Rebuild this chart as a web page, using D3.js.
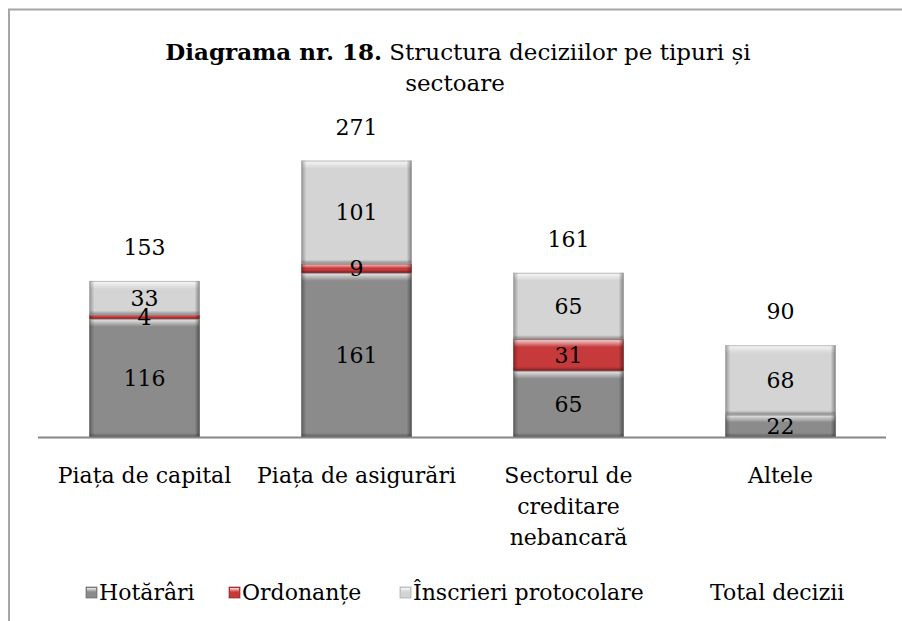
<!DOCTYPE html>
<html>
<head>
<meta charset="utf-8">
<script src="https://cdn.jsdelivr.net/npm/d3@7"></script>
<style>
  body { margin: 0; background: #fff; }
  svg { display: block; font-family: "DejaVu Serif", "Liberation Serif", serif; }
</style>
</head>
<body>
<div id="chart"></div>
<script>
const categories = ["Piața de capital", "Piața de asigurări", "Sectorul de\ncreditare\nnebancară", "Altele"];
const hotarari = [116, 161, 65, 22];
const ordonante = [4, 9, 31, 0];
const inscrieri = [33, 101, 65, 68];
const totalDecizii = [153, 271, 161, 90];
const seriesNames = ["Hotărâri", "Ordonanțe", "Înscrieri protocolare", "Total decizii"];

const width = 902, height = 621;
const fontSize = 22;

const svg = d3.select('#chart').append('svg')
  .attr('width', width)
  .attr('height', height);

const defs = svg.append('defs');

// chart area border (only top/left visible)
svg.append('path')
  .attr('d', `M9,${height} V9.5 H${width}`)
  .attr('fill', 'none')
  .attr('stroke', '#a6a6a6')
  .attr('stroke-width', 2);

// title
const title = svg.append('text')
  .attr('text-anchor', 'middle')
  .attr('font-size', fontSize + 1)
  .attr('fill', '#000');
const t1 = title.append('tspan').attr('x', 458).attr('y', 60);
t1.append('tspan').attr('font-weight', 'bold').text('Diagrama nr. 18.');
t1.append('tspan').text(' Structura deciziilor pe tipuri și');
title.append('tspan').attr('x', 455).attr('y', 91).text('sectoare');

const x = d3.scaleBand()
  .domain(d3.range(categories.length))
  .range([38.5, 886.5])
  .paddingInner(0.48)
  .paddingOuter(0.24);

const y = d3.scaleLinear()
  .domain([0, 300])
  .range([437, 131]);

const colors = [
  { base: '#8b8b8b', dark: '#5a5a5a' },
  { base: '#c73a3b', dark: '#7a1a1a' },
  { base: '#d4d4d4', dark: '#9a9a9a' }
];

// gradients for bevel
function grad(id, horiz, stops) {
  const g = defs.append('linearGradient').attr('id', id)
    .attr('x1', 0).attr('y1', 0).attr('x2', horiz ? 1 : 0).attr('y2', horiz ? 0 : 1);
  stops.forEach(s => g.append('stop').attr('offset', s[0]).attr('stop-color', s[1]).attr('stop-opacity', s[2]));
}
grad('topHi', false, [[0, '#fff', 0.85], [1, '#fff', 0]]);
grad('botSh', false, [[0, '#000', 0], [1, '#000', 0.35]]);
grad('leftSh', true, [[0, '#000', 0.3], [1, '#000', 0]]);
grad('rightSh', true, [[0, '#000', 0], [1, '#000', 0.4]]);

const stackData = categories.map((c, i) => ({ i, v: [hotarari[i], ordonante[i], inscrieri[i]] }));
const stack = d3.stack().keys([0, 1, 2]).value((d, k) => d.v[k]);
const layers = stack(stackData);

const plot = svg.append('g');

layers.forEach((layer, k) => {
  const col = colors[k];
  layer.forEach((d, i) => {
    const v = d[1] - d[0];
    if (v <= 0) return;
    const x0 = x(i), w = x.bandwidth();
    const y0 = y(d[1]), h = y(d[0]) - y(d[1]);
    const g = plot.append('g');
    g.append('rect').attr('x', x0).attr('y', y0).attr('width', w).attr('height', h).attr('fill', col.base);
    const e = Math.min(8, h / 2);
    g.append('rect').attr('x', x0).attr('y', y0).attr('width', w).attr('height', e).attr('fill', 'url(#topHi)');
    const b = Math.min(4, h / 3);
    g.append('rect').attr('x', x0).attr('y', y0 + h - b).attr('width', w).attr('height', b).attr('fill', 'url(#botSh)');
    g.append('rect').attr('x', x0).attr('y', y0).attr('width', 5).attr('height', h).attr('fill', 'url(#leftSh)');
    g.append('rect').attr('x', x0 + w - 5).attr('y', y0).attr('width', 5).attr('height', h).attr('fill', 'url(#rightSh)');
    g.append('rect').attr('x', x0 + 0.5).attr('y', y0 + 0.5).attr('width', w - 1).attr('height', Math.max(0, h - 1))
      .attr('fill', 'none').attr('stroke', col.dark).attr('stroke-opacity', 0.6);
  });
});

// segment labels
layers.forEach((layer, k) => {
  layer.forEach((d, i) => {
    const v = d[1] - d[0];
    if (v <= 0) return;
    plot.append('text')
      .attr('x', x(i) + x.bandwidth() / 2)
      .attr('y', (y(d[0]) + y(d[1])) / 2)
      .attr('dy', '0.36em')
      .attr('text-anchor', 'middle')
      .attr('font-size', fontSize)
      .text(v);
  });
});

// totals
plot.selectAll('.total')
  .data(totalDecizii)
  .join('text')
  .attr('class', 'total')
  .attr('x', (d, i) => x(i) + x.bandwidth() / 2)
  .attr('y', d => y(d) - 34)
  .attr('dy', '0.36em')
  .attr('text-anchor', 'middle')
  .attr('font-size', fontSize)
  .text(d => d);

// x axis
svg.append('line')
  .attr('x1', 38).attr('x2', 886)
  .attr('y1', 437.5).attr('y2', 437.5)
  .attr('stroke', '#868686').attr('stroke-width', 2);

const cat = svg.selectAll('.cat')
  .data(categories)
  .join('text')
  .attr('class', 'cat')
  .attr('text-anchor', 'middle')
  .attr('font-size', fontSize);
cat.each(function (d, i) {
  d.split('\n').forEach((line, j) => {
    d3.select(this).append('tspan')
      .attr('x', x(i) + x.bandwidth() / 2)
      .attr('y', 483 + j * 31)
      .text(line);
  });
});

// legend
const legendItems = [
  { name: seriesNames[0], x: 86, k: 0 },
  { name: seriesNames[1], x: 229, k: 1 },
  { name: seriesNames[2], x: 400, k: 2 },
  { name: seriesNames[3], x: 710, k: -1 }
];
const lg = svg.selectAll('.lg').data(legendItems).join('g')
  .attr('class', 'lg')
  .attr('transform', d => `translate(${d.x},592)`);
lg.filter(d => d.k >= 0).each(function (d) {
  const col = colors[d.k];
  const g = d3.select(this);
  g.append('rect').attr('x', 0).attr('y', -5).attr('width', 11).attr('height', 11).attr('fill', col.base)
    .attr('stroke', col.dark).attr('stroke-opacity', 0.6);
  g.append('rect').attr('x', 1).attr('y', -4).attr('width', 9).attr('height', 4).attr('fill', 'url(#topHi)');
});
lg.append('text')
  .attr('x', d => d.k >= 0 ? 13 : 0)
  .attr('dy', '0.36em')
  .attr('font-size', fontSize)
  .text(d => d.name);
</script>
</body>
</html>
